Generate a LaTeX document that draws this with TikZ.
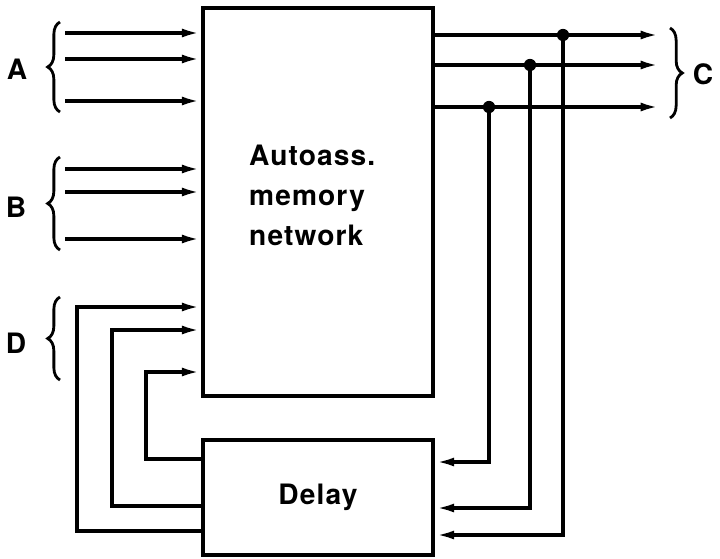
\documentclass[tikz,border=0pt]{standalone}
\usepackage{fontspec}
\usepackage{tikz}
\usetikzlibrary{arrows.meta, decorations.pathreplacing}
\newfontfamily\boxfont[LetterSpace=4]{TeX Gyre Heros}

\tikzset{
  block/.style={draw, line width=2pt, minimum width=4.6cm, inner sep=0pt},
  wire/.style={line width=2pt},
  arr/.style={wire, -{Latex[length=11pt, width=5pt]}},
  curly/.style={line width=1.6pt, decorate, decoration={brace, amplitude=7pt}},
  tag/.style={font=\boxfont\bfseries\fontsize{16}{22.7}\selectfont},
  junction/.style={circle, fill, inner sep=0pt, minimum size=7pt}
}

\begin{document}
\begin{tikzpicture}[x=0.02cm, y=-0.02cm]
  \useasboundingbox (0,0) rectangle (720,558);

  % the two blocks
  \node[block, minimum height=7.76cm] (net) at (318,202) {};
  \node[tag, align=left, anchor=west] (nettext) at (243,195) {Autoass.\\memory\\network};
  \node[block, minimum height=2.3cm, tag] (delay) at (318,497.5) {Delay};

  % inputs A and B
  \foreach \y [count=\i] in {33,59,101,169,192,239} {
    \coordinate (in\i) at (65,\y);
    \draw[arr] (in\i) -- (in\i -| net.west);
  }

  % feedback D from the delay
  \foreach \x/\yin/\yout [count=\i] in {77/307/531, 112/330/506, 146/372/459} {
    \coordinate (d\i) at (\x,\yin);
    \draw[arr] (delay.west |- 0,\yout) -| (d\i) -- (net.west |- d\i);
  }

  % outputs C, tapped back into the delay
  \foreach \x/\y/\yd [count=\i] in {563/35/535, 530/65/508, 489/107/462} {
    \coordinate (c\i) at (660,\y);
    \node[junction] (j\i) at (\x,\y) {};
    \draw[arr] (net.east |- c\i) -- (c\i);
    \draw[arr] (j\i.center) -- (\x,\yd) -- (delay.east |- 0,\yd);
  }

  % braces and labels
  \draw[curly] (60,112) -- (60,22);
  \node[tag] (la) at (17,69) {A};
  \draw[curly] (60,250) -- (60,157);
  \node[tag] (lb) at (16,207) {B};
  \draw[curly] (60,380) -- (60,297);
  \node[tag] (ld) at (16,343) {D};
  \draw[curly] (670,28) -- (670,118);
  \node[tag] (lc) at (703,74) {C};
\end{tikzpicture}
\end{document}
